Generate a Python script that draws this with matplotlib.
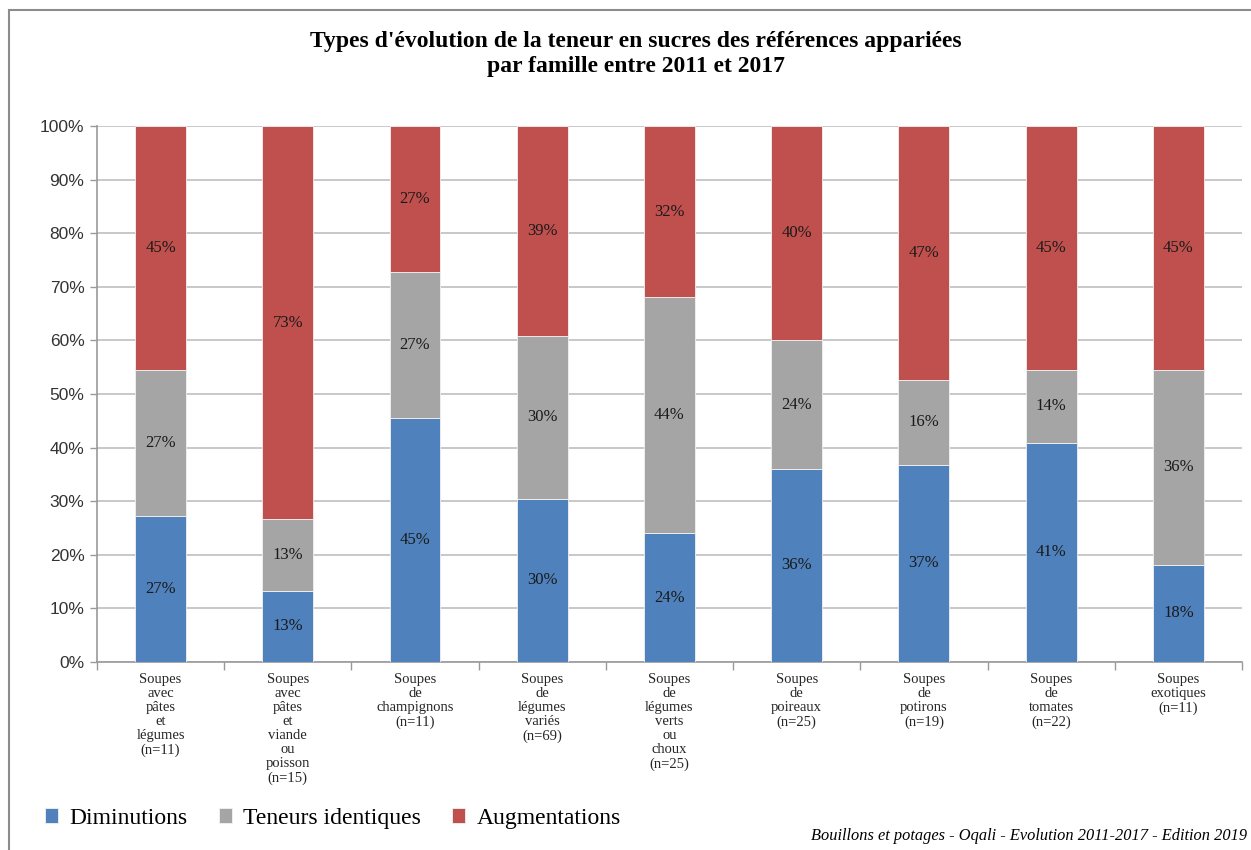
import matplotlib
matplotlib.use("Agg")
import matplotlib.pyplot as plt
import numpy as np
from matplotlib.patches import Rectangle

# values (percent of references per family)
categories = [
    "Soupes\navec\npâtes\net\nlégumes\n(n=11)",
    "Soupes\navec\npâtes\net\nviande\nou\npoisson\n(n=15)",
    "Soupes\nde\nchampignons\n(n=11)",
    "Soupes\nde\nlégumes\nvariés\n(n=69)",
    "Soupes\nde\nlégumes\nverts\nou\nchoux\n(n=25)",
    "Soupes\nde\npoireaux\n(n=25)",
    "Soupes\nde\npotirons\n(n=19)",
    "Soupes\nde\ntomates\n(n=22)",
    "Soupes\nexotiques\n(n=11)",
]
diminutions = [27.27, 13.33, 45.45, 30.43, 24.00, 36.00, 36.84, 40.91, 18.18]
identiques = [27.27, 13.33, 27.27, 30.43, 44.00, 24.00, 15.79, 13.64, 36.36]
augmentations = [45.46, 73.34, 27.28, 39.14, 32.00, 40.00, 47.37, 45.45, 45.46]

series = [
    ("Diminutions", diminutions, "#4F81BD"),
    ("Teneurs identiques", identiques, "#A5A5A5"),
    ("Augmentations", augmentations, "#C0504D"),
]

serif = "Liberation Serif"
sans = "Liberation Sans"

fig = plt.figure(figsize=(12.51, 8.5), dpi=100)
ax = fig.add_axes([0.0775, 0.2212, 0.9153, 0.6306])

# outer frame of the chart
fig.patches.append(Rectangle((0.0075, -0.01), 1.2, 0.998, transform=fig.transFigure,
                             fill=False, edgecolor="#8c8c8c", linewidth=1.5))

x = np.arange(len(categories))
bottom = np.zeros(len(categories))
handles = []
for name, vals, col in series:
    vals = np.array(vals)
    bars = ax.bar(x, vals, width=0.4, bottom=bottom, color=col,
                  edgecolor="#f2f2f2", linewidth=0.6, label=name, zorder=3)
    handles.append(bars)
    for xi, b, v in zip(x, bottom, vals):
        ax.text(xi, b + v / 2, f"{v:.0f}%", ha="center", va="center",
                fontsize=12, family=serif, color="#1a1a1a", zorder=4)
    bottom += vals

ax.set_xlim(-0.5, len(categories) - 0.5)
ax.set_ylim(0, 100)
ax.set_yticks(np.arange(0, 101, 10))
ax.set_yticklabels([f"{v}%" for v in range(0, 101, 10)], family=sans,
                   fontsize=12.5, color="#333333")
ax.yaxis.grid(True, color="#bfbfbf", linewidth=1.2, zorder=0)
ax.tick_params(axis="y", length=5, color="#999999", width=1, pad=4)

# category ticks between bars
ax.set_xticks(np.arange(-0.5, len(categories), 1.0))
ax.set_xticklabels([])
ax.set_xticks(x, minor=True)
ax.set_xticklabels(categories, minor=True, family=serif, fontsize=10.5,
                   color="#262626", linespacing=1.1)
ax.tick_params(axis="x", which="major", length=6, color="#999999", width=1)
ax.tick_params(axis="x", which="minor", length=0, pad=8)

for s in ["top", "right"]:
    ax.spines[s].set_visible(False)
ax.spines["left"].set_color("#999999")
ax.spines["bottom"].set_color("#999999")
ax.spines["left"].set_linewidth(1.2)
ax.spines["bottom"].set_linewidth(1.2)

fig.text(0.508, 0.936, "Types d'évolution de la teneur en sucres des références appariées\npar famille entre 2011 et 2017",
         ha="center", va="center", fontsize=17, fontweight="bold", family=serif,
         linespacing=1.25)

fig.legend(handles=handles, loc="lower left", bbox_to_anchor=(0.019, 0.0),
           ncol=3, frameon=False, prop={"family": serif, "size": 17},
           handlelength=0.55, handleheight=0.55, handletextpad=0.5, columnspacing=1.3)

fig.text(0.997, 0.016, "Bouillons et potages - Oqali - Evolution 2011-2017 - Edition 2019",
         ha="right", va="center", fontsize=11.8, style="italic", family=serif)

fig.savefig("out.png", dpi=100)
